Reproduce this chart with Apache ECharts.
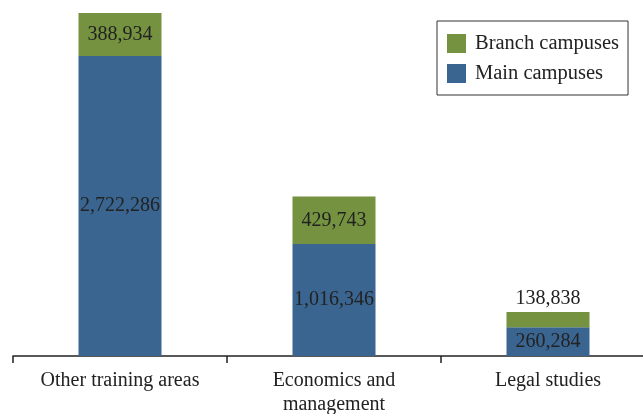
<!DOCTYPE html>
<html>
<head>
<meta charset="utf-8">
<script src="https://cdn.jsdelivr.net/npm/echarts@6/dist/echarts.min.js"></script>
<style>
  html, body { margin: 0; padding: 0; background: #fff; }
  #chart { width: 643px; height: 414px; }
</style>
</head>
<body>
<div id="chart"></div>
<script>
const categories = ['Other training areas', 'Economics and\nmanagement', 'Legal studies'];
const mainCampuses = [2722286, 1016346, 260284];
const branchCampuses = [388934, 429743, 138838];

const fmt = v => v.toLocaleString('en-US');
const serif = '"Liberation Serif", "DejaVu Serif", serif';

const chart = echarts.init(document.getElementById('chart'));

const option = {
  animation: false,
  textStyle: { fontFamily: serif },
  grid: { left: 13, top: 13, right: -12, bottom: 58, outerBoundsMode: 'none', containLabel: false },
  legend: {
    data: ['Branch campuses', 'Main campuses'],
    orient: 'vertical',
    left: 437,
    top: 21,
    padding: [12, 9, 11, 10],
    itemWidth: 19,
    itemHeight: 19,
    itemGap: 9,
    icon: 'rect',
    borderColor: '#333',
    borderWidth: 1,
    textStyle: { fontFamily: serif, fontSize: 20.5, color: '#222', padding: [0, 0, 0, 4] }
  },
  xAxis: {
    type: 'category',
    data: categories,
    axisLine: { lineStyle: { color: '#222', width: 1.5 } },
    axisTick: { show: true, length: 7, lineStyle: { color: '#222', width: 1.5 } },
    axisLabel: { fontFamily: serif, fontSize: 20, color: '#222', margin: 13, lineHeight: 24 }
  },
  yAxis: {
    type: 'value',
    min: 0,
    max: 3111220,
    show: false,
    splitLine: { show: false }
  },
  series: [
    {
      name: 'Main campuses',
      type: 'bar',
      stack: 'total',
      barWidth: 83,
      data: mainCampuses,
      itemStyle: { color: '#3a6590' },
      label: {
        show: true,
        position: 'inside',
        formatter: p => fmt(p.value),
        fontFamily: serif, fontSize: 20, color: '#222'
      }
    },
    {
      name: 'Branch campuses',
      type: 'bar',
      stack: 'total',
      barWidth: 83,
      data: branchCampuses.map((v, i) => i === 2
        ? { value: v, label: { position: 'top', distance: 3 } }
        : v),
      itemStyle: { color: '#74923f' },
      label: {
        show: true,
        position: 'inside',
        formatter: p => fmt(p.value),
        fontFamily: serif, fontSize: 20, color: '#222'
      }
    }
  ]
};

chart.setOption(option);
</script>
</body>
</html>
